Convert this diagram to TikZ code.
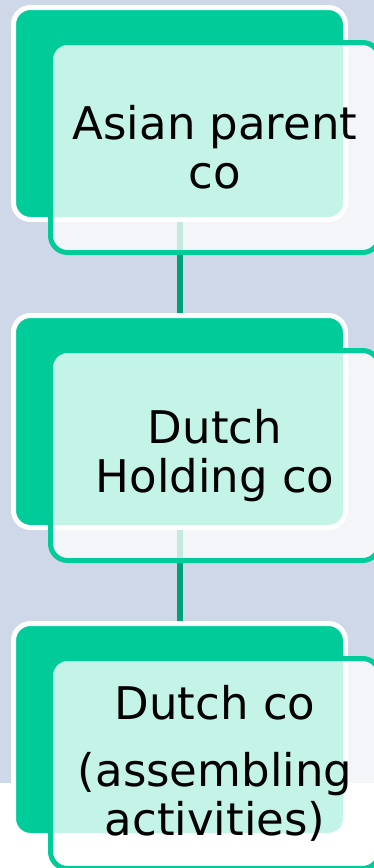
\documentclass[tikz,border=0pt]{standalone}
\usepackage{fontspec}
\setsansfont{DejaVu Sans}
\usepackage{xcolor}
\usepackage{tikz}
\usetikzlibrary{positioning}
\definecolor{bgblue}{RGB}{206,216,232}
\definecolor{boxgreen}{RGB}{0,204,153}
\definecolor{linkgreen}{RGB}{0,160,120}
\tikzset{
    orgchart/.style={x=1pt, y=-1pt, node distance=91pt, font=\sffamily\fontsize{45pt}{49pt}\selectfont},
    backbox/.style={draw=white, fill=boxgreen, line width=5pt, rounded corners=17pt, minimum width=332pt, minimum height=212pt},
    frontbox/.style={draw=boxgreen, fill=white, fill opacity=0.77, text opacity=1, line width=5pt, rounded corners=17pt, minimum width=329pt, minimum height=210pt, align=center, inner sep=0pt},
    link/.style={draw=linkgreen, line width=6pt},
}

\begin{document}
\begin{tikzpicture}[orgchart]
    \useasboundingbox (0,0) rectangle (374,868);
    \fill[bgblue] (0,0) rectangle (374,783);
    \fill[white] (0,783) rectangle (374,868);

    % green cards at the back
    \node[backbox] at (179.5,113.5) (back1) {};
    \node[backbox, below=of back1]  (back2) {};
    \node[backbox, below=of back2]  (back3) {};

    % links run behind the front cards
    \draw[link] (back1) -- (back2);
    \draw[link] (back2) -- (back3);

    % text cards, shifted down and right
    \node[frontbox, below right=35pt and 37pt of back1.north west] (front1) {Asian parent\\co};
    \node[frontbox, below right=35pt and 37pt of back2.north west] (front2) {Dutch\\Holding co};
    \node[frontbox, below right=35pt and 37pt of back3.north west] (front3) {Dutch co\\[18pt](assembling\\activities)};
\end{tikzpicture}
\end{document}
